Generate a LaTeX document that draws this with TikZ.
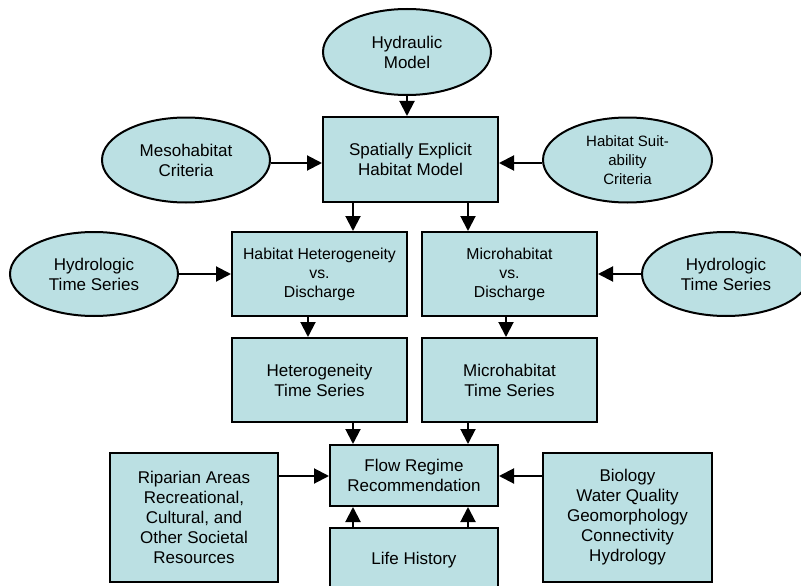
\documentclass[tikz,border=0pt]{standalone}
\usepackage{fontspec}
\setmainfont{Liberation Sans}
\usetikzlibrary{shapes.geometric,arrows.meta}
\definecolor{boxfill}{HTML}{BBE0E3}
\tikzset{
  base/.style={draw=black, line width=2pt, fill=boxfill, inner sep=0pt, align=center,
    font=\fontsize{17}{20}\selectfont},
  ell/.style={base, ellipse},
  rbox/.style={base, rectangle},
  small/.style={font=\fontsize{15.8}{19}\selectfont},
  arr/.style={line width=2pt, -{Triangle[length=15pt,width=15pt]}}
}
\begin{document}
\begin{tikzpicture}[x=1pt,y=-1pt]
\useasboundingbox (0,0) rectangle (801,586);
\clip (0,0) rectangle (801,586);
% nodes
\node[ell, minimum width=168, minimum height=86] (hyd) at (407,52) {Hydraulic\\Model};
\node[rbox, minimum width=175, minimum height=85] (sehm) at (410.5,159.5) {Spatially Explicit\\Habitat Model};
\node[ell, minimum width=168, minimum height=85] (meso) at (186,160) {Mesohabitat\\Criteria};
\node[ell, minimum width=169, minimum height=85, font=\fontsize{15}{19}\selectfont] (hsc) at (627.5,160) {Habitat Suit-\\ability\\Criteria};
\node[rbox, small, minimum width=175, minimum height=84] (hhd) at (319.5,274) {Habitat Heterogeneity\\vs.\\Discharge};
\node[rbox, small, minimum width=175, minimum height=84] (mhd) at (509.5,274) {Microhabitat\\vs.\\Discharge};
\node[ell, minimum width=168, minimum height=84] (hts1) at (94,274) {Hydrologic\\Time Series};
\node[ell, minimum width=168, minimum height=84] (hts2) at (726,274) {Hydrologic\\Time Series};
\node[rbox, minimum width=175, minimum height=84] (hts) at (319.5,380) {Heterogeneity\\Time Series};
\node[rbox, minimum width=175, minimum height=84] (mts) at (509.5,380) {Microhabitat\\Time Series};
\node[rbox, minimum width=168, minimum height=61] (frr) at (414,475.5) {Flow Regime\\Recommendation};
\node[rbox, minimum width=168, minimum height=129] (rip) at (194,517.5) {Riparian Areas\\Recreational,\\Cultural, and\\Other Societal\\Resources};
\node[rbox, minimum width=169, minimum height=129] (bio) at (627.5,517.5) {Biology\\Water Quality\\Geomorphology\\Connectivity\\Hydrology};
\node[rbox, minimum width=168, minimum height=64] (life) at (414,560) {Life History};
% helper coordinates
\coordinate (xa) at (353,0);
\coordinate (xb) at (468,0);
\coordinate (xc) at (308,0);
\coordinate (xd) at (506,0);
\coordinate (ya) at (0,163);
\coordinate (yc) at (0,476);
% connectors
\draw[arr] (hyd.south) -- (hyd.south |- sehm.north);
\draw[arr] (meso.east |- ya) -- (sehm.west |- ya);
\draw[arr] (hsc.west |- ya) -- (sehm.east |- ya);
\draw[arr] (sehm.south -| xa) -- (hhd.north -| xa);
\draw[arr] (sehm.south -| xb) -- (mhd.north -| xb);
\draw[arr] (hts1.east) -- (hhd.west |- hts1.east);
\draw[arr] (hts2.west) -- (mhd.east |- hts2.west);
\draw[arr] (hhd.south -| xc) -- (hts.north -| xc);
\draw[arr] (mhd.south -| xd) -- (mts.north -| xd);
\draw[arr] (hts.south -| xa) -- (frr.north -| xa);
\draw[arr] (mts.south -| xb) -- (frr.north -| xb);
\draw[arr] (rip.east |- yc) -- (frr.west |- yc);
\draw[arr] (bio.west |- yc) -- (frr.east |- yc);
\draw[arr] (life.north -| xa) -- (frr.south -| xa);
\draw[arr] (life.north -| xb) -- (frr.south -| xb);
\end{tikzpicture}
\end{document}
